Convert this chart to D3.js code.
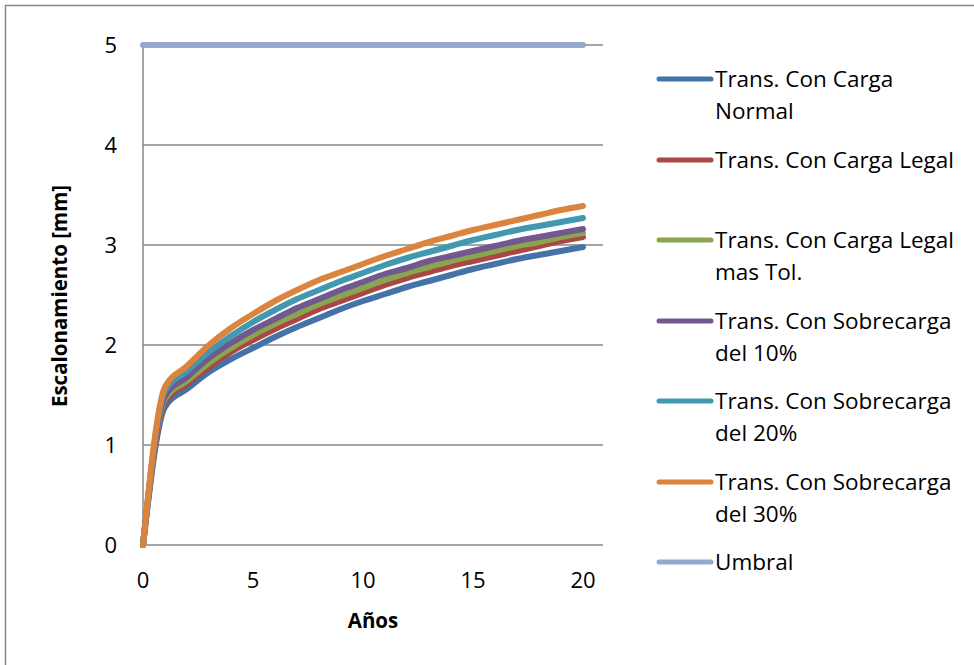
<!DOCTYPE html>
<html>
<head>
<meta charset="utf-8">
<script src="https://cdn.jsdelivr.net/npm/d3@7"></script>
<style>
  body { margin: 0; background: #fff; }
  svg text { font-family: "Open Sans", sans-serif; fill: #000; }
</style>
</head>
<body>
<svg id="chart" width="974" height="665"></svg>
<script>
// data
const years = [0,1,2,3,4,5,6,7,8,9,10,11,12,13,14,15,16,17,18,19,20];
const normal  = [0,1.38,1.56,1.73,1.86,1.97,2.08,2.18,2.27,2.36,2.44,2.51,2.58,2.64,2.70,2.76,2.81,2.86,2.90,2.94,2.98];
const legal   = [0,1.43,1.61,1.78,1.93,2.05,2.16,2.26,2.36,2.44,2.52,2.60,2.67,2.73,2.79,2.84,2.89,2.94,2.99,3.04,3.08];
const legalTol= [0,1.46,1.64,1.82,1.97,2.10,2.21,2.31,2.41,2.49,2.57,2.65,2.72,2.78,2.84,2.89,2.94,2.99,3.03,3.08,3.12];
const sobre10 = [0,1.49,1.68,1.87,2.02,2.15,2.26,2.37,2.46,2.55,2.63,2.71,2.77,2.84,2.89,2.94,2.99,3.04,3.08,3.12,3.16];
const sobre20 = [0,1.54,1.74,1.93,2.09,2.23,2.35,2.46,2.55,2.64,2.72,2.80,2.87,2.93,2.99,3.05,3.10,3.15,3.19,3.23,3.27];
const sobre30 = [0,1.58,1.79,2.00,2.17,2.31,2.44,2.55,2.65,2.73,2.81,2.89,2.96,3.03,3.09,3.15,3.20,3.25,3.30,3.35,3.39];
const umbral  = [5,5,5,5,5,5,5,5,5,5,5,5,5,5,5,5,5,5,5,5,5];

const seriesNames = [
  ["Trans. Con Carga", "Normal"],
  ["Trans. Con Carga Legal"],
  ["Trans. Con Carga Legal", "mas Tol."],
  ["Trans. Con Sobrecarga", "del 10%"],
  ["Trans. Con Sobrecarga", "del 20%"],
  ["Trans. Con Sobrecarga", "del 30%"],
  ["Umbral"]
];
const seriesValues = [normal, legal, legalTol, sobre10, sobre20, sobre30, umbral];
const colors = ["#4572A7", "#AA4643", "#89A54E", "#71588F", "#4198AF", "#DB843D", "#93A9CF"];
const xTicks = [0, 5, 10, 15, 20];
const yTicks = [0, 1, 2, 3, 4, 5];

const svg = d3.select("#chart");

// outer chart border
svg.append("rect")
  .attr("x", 5.5).attr("y", 5.5)
  .attr("width", 1000).attr("height", 700)
  .attr("fill", "none")
  .attr("stroke", "#888")
  .attr("stroke-width", 1.5);

const plotLeft = 143, plotRight = 603, plotTop = 45, plotBottom = 545;

const x = d3.scaleLinear().domain([0, 20]).range([plotLeft, 583]);
const y = d3.scaleLinear().domain([0, 5]).range([plotBottom, plotTop]);

// horizontal gridlines
svg.append("g")
  .selectAll("line")
  .data(yTicks)
  .enter()
  .append("line")
    .attr("x1", plotLeft)
    .attr("x2", plotRight)
    .attr("y1", d => y(d))
    .attr("y2", d => y(d))
    .attr("stroke", "#878787")
    .attr("stroke-width", 1.5);

// y axis line
svg.append("line")
  .attr("x1", plotLeft).attr("x2", plotLeft)
  .attr("y1", plotTop).attr("y2", plotBottom)
  .attr("stroke", "#878787")
  .attr("stroke-width", 1.5);

// tick labels
svg.append("g")
  .selectAll("text")
  .data(yTicks)
  .enter()
  .append("text")
    .attr("x", 117)
    .attr("y", d => y(d))
    .attr("dy", "0.36em")
    .attr("text-anchor", "end")
    .style("font-size", "22px")
    .text(d => d);

svg.append("g")
  .selectAll("text")
  .data(xTicks)
  .enter()
  .append("text")
    .attr("x", d => x(d))
    .attr("y", 588)
    .attr("text-anchor", "middle")
    .style("font-size", "22px")
    .text(d => d);

// axis titles
svg.append("text")
  .attr("x", 373)
  .attr("y", 628)
  .attr("text-anchor", "middle")
  .style("font-size", "20.5px")
  .style("font-weight", "bold")
  .text("Años");

svg.append("text")
  .attr("transform", "translate(67,296) rotate(-90)")
  .attr("text-anchor", "middle")
  .style("font-size", "20.5px")
  .style("font-weight", "bold")
  .text("Escalonamiento [mm]");

// lines
const line = d3.line()
  .x((d, i) => x(years[i]))
  .y(d => y(d))
  .curve(d3.curveMonotoneX);

const drawOrder = [6, 0, 1, 2, 3, 4, 5];
svg.append("g")
  .selectAll("path")
  .data(drawOrder)
  .enter()
  .append("path")
    .attr("d", i => line(seriesValues[i]))
    .attr("fill", "none")
    .attr("stroke", i => colors[i])
    .attr("stroke-width", 6)
    .attr("stroke-linejoin", "round")
    .attr("stroke-linecap", "round");

// legend
const legendY = [79, 160, 240, 321, 401, 482, 562];
const legend = svg.append("g")
  .selectAll("g")
  .data(seriesNames)
  .enter()
  .append("g")
    .attr("transform", (d, i) => "translate(0," + legendY[i] + ")");

legend.append("line")
  .attr("x1", 659).attr("x2", 711)
  .attr("y1", 0).attr("y2", 0)
  .attr("stroke", (d, i) => colors[i])
  .attr("stroke-width", 5)
  .attr("stroke-linecap", "round");

legend.append("text")
  .attr("x", 715)
  .attr("y", 8)
  .style("font-size", "22.5px")
  .selectAll("tspan")
  .data(d => d)
  .enter()
  .append("tspan")
    .attr("x", 715)
    .attr("dy", (d, i) => i === 0 ? 0 : 32)
    .text(d => d);
</script>
</body>
</html>
